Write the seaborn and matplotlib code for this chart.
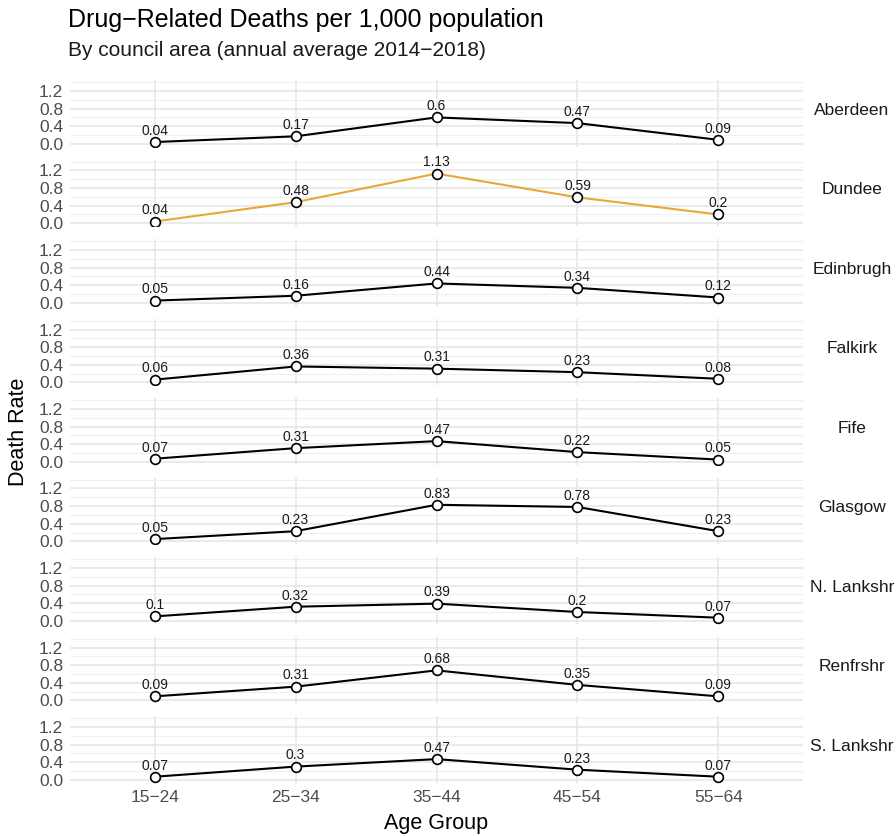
import matplotlib
matplotlib.use("Agg")
import matplotlib.pyplot as plt
import seaborn as sns
import pandas as pd
from matplotlib.ticker import FixedLocator

# Drug-related deaths per 1,000 population, by council area and age group
age_groups = ["15−24", "25−34", "35−44", "45−54", "55−64"]
councils = ["Aberdeen", "Dundee", "Edinbrugh", "Falkirk", "Fife",
            "Glasgow", "N. Lankshr", "Renfrshr", "S. Lankshr"]

aberdeen = [0.04, 0.17, 0.6, 0.47, 0.09]
dundee = [0.04, 0.48, 1.13, 0.59, 0.2]
edinbrugh = [0.05, 0.16, 0.44, 0.34, 0.12]
falkirk = [0.06, 0.36, 0.31, 0.23, 0.08]
fife = [0.07, 0.31, 0.47, 0.22, 0.05]
glasgow = [0.05, 0.23, 0.83, 0.78, 0.23]
n_lankshr = [0.1, 0.32, 0.39, 0.2, 0.07]
renfrshr = [0.09, 0.31, 0.68, 0.35, 0.09]
s_lankshr = [0.07, 0.3, 0.47, 0.23, 0.07]

rates = [aberdeen, dundee, edinbrugh, falkirk, fife,
         glasgow, n_lankshr, renfrshr, s_lankshr]
highlight = "Dundee"

rows = []
for council, vals in zip(councils, rates):
    for age, v in zip(age_groups, vals):
        rows.append({"council": council, "age": age, "rate": v})
df = pd.DataFrame(rows)

sns.set_theme(style="white")
plt.rcParams["font.family"] = ["Liberation Sans", "DejaVu Sans"]

W, H = 896, 836
fig = plt.figure(figsize=(W / 100, H / 100), dpi=100)
fig.patch.set_facecolor("white")

# panel geometry in pixels
left_px, right_px = 70, 803
top0_px, step_px = 80, 79.5
ylo, yhi = -0.07, 1.45
panel_h = (yhi - ylo) * 44.0

for i, council in enumerate(councils):
    top = top0_px + i * step_px
    ax = fig.add_axes([left_px / W, 1 - (top + panel_h) / H,
                       (right_px - left_px) / W, panel_h / H])
    sub = df[df["council"] == council]
    color = "#E8A838" if council == highlight else "black"

    ax.set_xlim(-0.6, 4.6)
    ax.set_ylim(ylo, yhi)
    ax.yaxis.set_major_locator(FixedLocator([0, 0.4, 0.8, 1.2]))
    ax.yaxis.set_minor_locator(FixedLocator([0.2, 0.6, 1.0, 1.4]))
    ax.grid(which="major", color="#E6E6E6", linewidth=1.2)
    ax.grid(which="minor", axis="y", color="#EFEFEF", linewidth=0.8)
    ax.set_axisbelow(True)

    sns.lineplot(data=sub, x="age", y="rate", ax=ax, color=color,
                 linewidth=1.5, marker="o", markersize=7,
                 markerfacecolor="white", markeredgecolor="black",
                 markeredgewidth=1.2, sort=False)

    for j, v in enumerate(sub["rate"]):
        ax.annotate(f"{v:g}", (j, v), xytext=(0, 3), textcoords="offset points",
                    ha="center", va="bottom", fontsize=10, color="#1A1A1A")

    ax.set_yticks([0, 0.4, 0.8, 1.2])
    ax.set_yticklabels(["0.0", "0.4", "0.8", "1.2"])
    ax.tick_params(axis="both", length=0, labelsize=12.5, labelcolor="#4D4D4D", pad=5)
    ax.set_xlabel("")
    ax.set_ylabel("")
    for s in ax.spines.values():
        s.set_visible(False)
    if i < len(councils) - 1:
        ax.tick_params(axis="x", labelbottom=False)

    fig.text(852 / W, 1 - (top + panel_h * 0.45) / H, council,
             ha="center", va="center", fontsize=12.5, color="#1A1A1A")

fig.text(68 / W, 1 - 20 / H, "Drug−Related Deaths per 1,000 population",
         ha="left", va="center", fontsize=18, color="black")
fig.text(68 / W, 1 - 50 / H, "By council area (annual average 2014−2018)",
         ha="left", va="center", fontsize=15, color="#1A1A1A")
fig.text((left_px + right_px) / 2 / W, 1 - 823 / H, "Age Group",
         ha="center", va="center", fontsize=15.5, color="black")
fig.text(18 / W, 1 - 432 / H, "Death Rate", rotation=90,
         ha="center", va="center", fontsize=15.5, color="black")

fig.savefig("out.png", dpi=100, facecolor="white")
